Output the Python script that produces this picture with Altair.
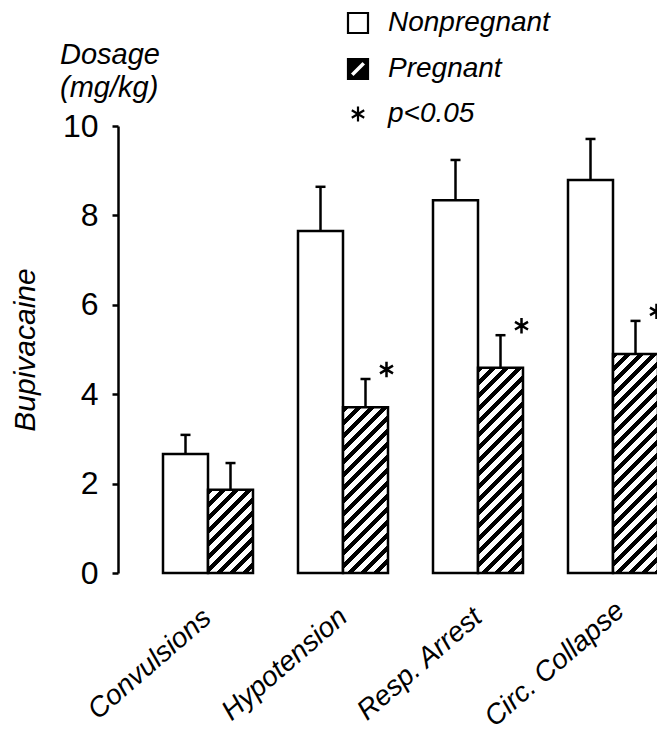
import math
import altair as alt
import pandas as pd

# ---------------- data ----------------
categories = ["Convulsions", "Hypotension", "Resp. Arrest", "Circ. Collapse"]
series = ["Nonpregnant", "Pregnant"]
nonpregnant_mean = [2.66, 7.65, 8.34, 8.79]
nonpregnant_upper = [3.09, 8.64, 9.24, 9.71]
pregnant_mean = [1.86, 3.71, 4.59, 4.90]
pregnant_upper = [2.46, 4.34, 5.32, 5.64]
pregnant_significant = [False, True, True, True]
legend_keys = ["Nonpregnant", "Pregnant", "p<0.05"]
y_ticks = [0, 2, 4, 6, 8, 10]
dosage_label_lines = ["Dosage", "(mg/kg)"]

rows = []
for i, c in enumerate(categories):
    rows.append(dict(category=c, series="Nonpregnant", mean=nonpregnant_mean[i],
                     upper=nonpregnant_upper[i], sig=False))
    rows.append(dict(category=c, series="Pregnant", mean=pregnant_mean[i],
                     upper=pregnant_upper[i], sig=pregnant_significant[i]))
df = pd.DataFrame(rows)
legend_df = pd.DataFrame({"key": legend_keys})
note_df = pd.DataFrame({"note": ["\n".join(dosage_label_lines)]})

# ---------------- layout / style ----------------
FONT = "Liberation Sans"
PLOT_W, PLOT_H = 539, 447
Y_MAX = 10
X_RANGE = [0, 585]
PAD_IN = 1 / 3
PAD_OUT = 1 / 3
step = X_RANGE[1] / (len(categories) - PAD_IN + 2 * PAD_OUT)
sub_w = step * (1 - PAD_IN) / 2
LW = 2.5

ASTERISK = "M0,-0.75L0,0.75M-0.62,-0.37L0.62,0.37M-0.62,0.37L0.62,-0.37"
PREG_ICON = ("M-1,-1L1,-1L1,1L-1,1Z"
             "M-0.85,0.45L-0.45,0.85L0.85,-0.45L0.45,-0.85Z")
# asterisk drawn next to the top right of the pregnant error bar
ASTER_OFFSET = "M2.1,-1.72L2.1,-0.18M1.45,-1.33L2.75,-0.57M1.45,-0.57L2.75,-1.33"


def hatch(value):
    """Diagonal (/) hatch as a hard-stop linear gradient for one bar."""
    w = sub_w
    h = value / Y_MAX * PLOT_H
    L = w + h
    P = 13.0
    k = L / (w * w + h * h)
    stops = []
    n = int(math.ceil(L / P))
    for i in range(n):
        a = min(i * P / L, 1)
        b = min((i * P + 0.45 * P) / L, 1)
        c = min((i + 1) * P / L, 1)
        stops += [{"offset": a, "color": "black"}, {"offset": b, "color": "black"},
                  {"offset": b, "color": "white"}, {"offset": c, "color": "white"}]
    return {"gradient": "linear", "x1": 0, "y1": 0, "x2": k * w, "y2": k * h,
            "stops": stops}


x_enc = alt.X(
    "category:N", sort=categories,
    scale=alt.Scale(domain=categories, range=X_RANGE,
                    paddingInner=PAD_IN, paddingOuter=PAD_OUT),
    axis=alt.Axis(title=None, domain=False, ticks=False, labelAngle=319,
                  labelAlign="center", labelBaseline="middle", labelOffset=-58,
                  labelPadding=91, labelFont=FONT, labelFontSize=28,
                  labelFontStyle="italic", labelColor="black", labelOverlap=False,
                  labelLimit=400),
)
xo_enc = alt.XOffset("series:N", sort=series,
                     scale=alt.Scale(domain=series, paddingInner=0, paddingOuter=0))
y_axis = alt.Axis(values=y_ticks, title="Bupivacaine", grid=False,
                  titleFont=FONT, titleFontSize=30, titleFontStyle="italic",
                  titleFontWeight="normal", titleColor="black",
                  titleAngle=270, titleAlign="center", titleBaseline="middle",
                  titleX=-93, titleY=PLOT_H / 2,
                  labelFont=FONT, labelFontSize=32, labelColor="black",
                  labelPadding=14, tickSize=6, tickWidth=LW, tickColor="black",
                  domainWidth=LW, domainColor="black")
y_scale = alt.Scale(domain=[0, Y_MAX], nice=False, zero=True)


def y_of(field):
    return alt.Y(f"{field}:Q", scale=y_scale, axis=y_axis, title="Bupivacaine")


base = alt.Chart(df)

non_bars = base.transform_filter(alt.datum.series == "Nonpregnant").mark_bar(
    fill="white", stroke="black", strokeWidth=LW
).encode(x=x_enc, xOffset=xo_enc, y=y_of("mean"))

preg_bars = []
for i, c in enumerate(categories):
    preg_bars.append(
        base.transform_filter((alt.datum.series == "Pregnant") & (alt.datum.category == c))
        .mark_bar(fill=hatch(pregnant_mean[i]), stroke="black", strokeWidth=LW)
        .encode(x=x_enc, xOffset=xo_enc, y=y_of("mean"))
    )

err_rules = base.mark_rule(color="black", strokeWidth=LW).encode(
    x=x_enc, xOffset=xo_enc, y=y_of("mean"), y2="upper:Q")

err_caps = base.mark_tick(color="black", size=10, thickness=LW, opacity=1).encode(
    x=x_enc, xOffset=xo_enc, y=y_of("upper"))

stars = base.transform_filter("datum.sig").mark_point(
    shape=ASTER_OFFSET, size=400, stroke="black", strokeWidth=LW,
    filled=False, opacity=1
).encode(x=x_enc, xOffset=xo_enc, y=y_of("upper"))

leg = alt.Legend(title=None, orient="none", legendX=226, legendY=-117,
                 labelFont=FONT, labelFontSize=28, labelFontStyle="italic",
                 labelColor="black", labelLimit=400, symbolSize=400,
                 symbolStrokeWidth=2.2, symbolStrokeColor="black", symbolOpacity=1,
                 rowPadding=16, labelOffset=16, padding=0)
legend_layer = alt.Chart(legend_df).mark_point(
    filled=True, opacity=0, strokeWidth=2.2
).encode(
    fill=alt.Fill("key:N", sort=legend_keys,
                  scale=alt.Scale(domain=legend_keys, range=["white", "black", "black"]),
                  legend=leg),
    stroke=alt.Stroke("key:N", sort=legend_keys,
                      scale=alt.Scale(domain=legend_keys, range=["black", "black", "black"]),
                      legend=leg),
    shape=alt.Shape("key:N", sort=legend_keys,
                    scale=alt.Scale(domain=legend_keys,
                                    range=["square", PREG_ICON, ASTERISK]),
                    legend=leg),
)

note = alt.Chart(note_df).mark_text(
    align="left", baseline="top", font=FONT, fontSize=29, fontStyle="italic",
    color="black", lineBreak="\n", lineHeight=33
).encode(text="note:N", x=alt.value(-58), y=alt.value(-85))

chart = alt.layer(
    non_bars, *preg_bars, err_rules, err_caps, stars, legend_layer, note
).properties(
    width=PLOT_W, height=PLOT_H,
    autosize=alt.AutoSizeParams(type="none"),
    padding={"left": 118, "top": 126, "right": 0, "bottom": 163},
    background="white",
).configure_view(stroke=None)

chart.save("out.html", embed_options={"renderer": "svg", "actions": False})
